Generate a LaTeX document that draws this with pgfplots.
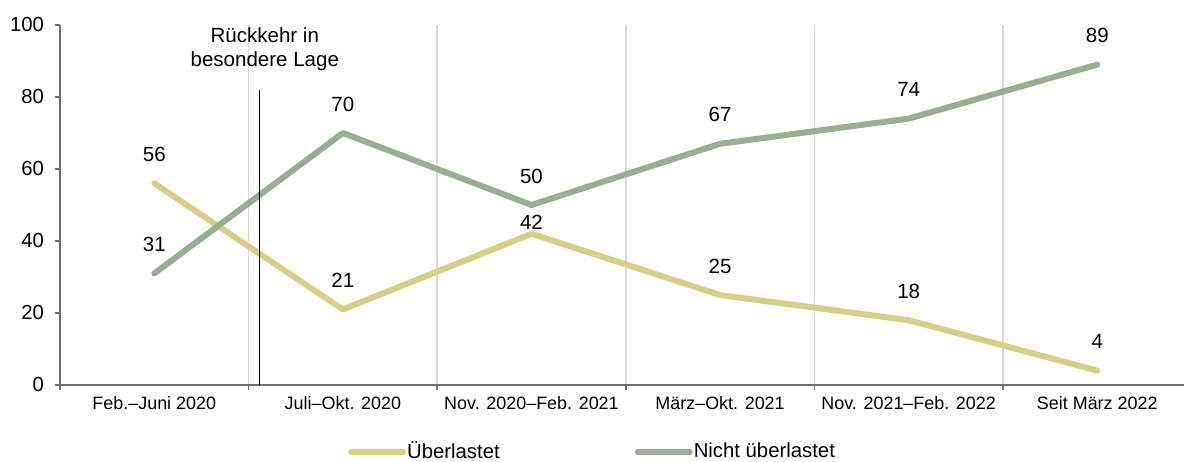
\documentclass[border=0pt]{standalone}
\usepackage{fontspec}
\setmainfont{Liberation Sans}
\usepackage{pgfplots}
\pgfplotsset{compat=1.18}
\definecolor{ueber}{HTML}{D7CF85}
\definecolor{nicht}{HTML}{99AF91}
\definecolor{axgray}{HTML}{6E6E6E}
\definecolor{gridgray}{HTML}{D9D9D9}
\begin{document}
\begin{tikzpicture}
\begin{axis}[
  at={(0,0)}, anchor=south west,
  scale only axis, width=562bp, height=180bp,
  xmin=-0.5, xmax=5.46, ymin=0, ymax=100,
  axis x line*=bottom, axis y line*=left,
  axis line style={axgray, line width=0.75bp},
  clip=false,
  /pgf/number format/assume math mode=true,
  xtick={-0.5,0.5,1.5,2.5,3.5,4.5},
  xticklabels={},
  xmajorgrids,
  major grid style={gridgray, line width=0.75bp},
  extra x ticks={0,1,2,3,4,5},
  extra x tick labels={Feb.–Juni 2020, Juli–Okt. 2020, Nov. 2020–Feb. 2021, März–Okt. 2021, Nov. 2021–Feb. 2022, Seit März 2022},
  extra x tick style={major tick length=0pt, grid=none, tick label style={font=\fontsize{9}{11}\selectfont, yshift=-2bp}},
  ytick={0,20,40,60,80,100},
  ymajorgrids=false,
  tick align=outside,
  major tick length=2.5bp,
  tick style={axgray, line width=0.75bp},
  yticklabel style={font=\fontsize{10.2}{12}\selectfont, xshift=-2bp},
  legend columns=2,
  legend style={draw=none, fill=none, at={(0.256,-0.186)}, anchor=west,
    font=\fontsize{10.2}{12}\selectfont, inner sep=0pt,
    /tikz/every even column/.append style={column sep=67bp},
    nodes={inner xsep=0.5bp}},
  legend image code/.code={\draw[#1, line width=3bp, line cap=round] (0bp,0bp) -- (26bp,0bp);},
]
\addplot[ueber, line width=3bp, line cap=round, line join=round,
  visualization depends on={value \thisrow{dy} \as \dy},
  nodes near coords,
  every node near coord/.append style={text=black, font=\fontsize{10.3}{12}\selectfont, anchor=center, yshift=\dy bp}]
  table {
x y dy
0 56 14.5
1 21 14.5
2 42 5.8
3 25 14.5
4 18 14.5
5 4 14.5
};
\addlegendentry{Überlastet}
\addplot[nicht, line width=3bp, line cap=round, line join=round,
  visualization depends on={value \thisrow{dy} \as \dy},
  nodes near coords,
  every node near coord/.append style={text=black, font=\fontsize{10.3}{12}\selectfont, anchor=center, yshift=\dy bp}]
  table {
x y dy
0 31 14.5
1 70 14.5
2 50 14.5
3 67 14.5
4 74 14.5
5 89 14.5
};
\addlegendentry{Nicht überlastet}
\addplot[black, line width=0.6bp, forget plot] coordinates {(0.559,0) (0.559,82)};
\node[align=center, font=\fontsize{10.3}{12}\selectfont, text=black] at (axis cs:0.586,93.2) {Rückkehr in\\besondere Lage};
\end{axis}
\pgfresetboundingbox
\path[use as bounding box] (-30bp,-38.5bp) rectangle (562bp,192.5bp);
\end{tikzpicture}
\end{document}
